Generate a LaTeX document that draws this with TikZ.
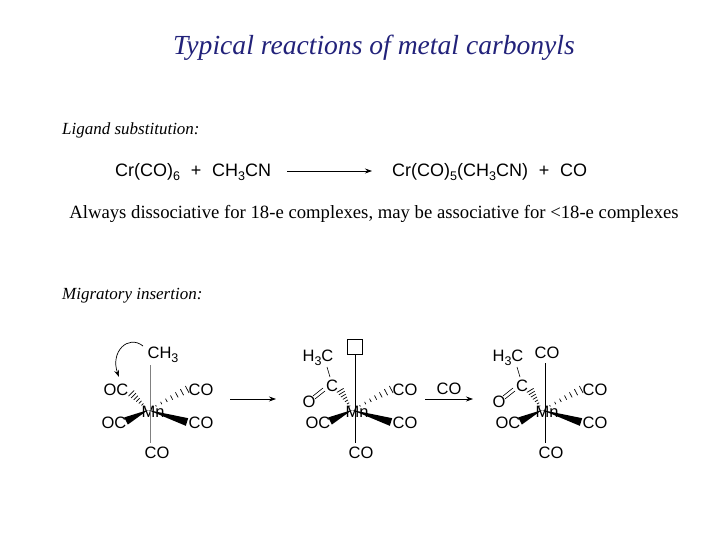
\documentclass[tikz,border=0pt]{standalone}
\usepackage{fontspec}
\setmainfont{Liberation Serif}
\setsansfont{Liberation Sans}
\usetikzlibrary{calc,arrows.meta}
\definecolor{titleblue}{HTML}{22227A}
\newcommand\sbs[1]{\raisebox{-0.4ex}{\fontsize{12.5}{13}\selectfont #1}}
\newcommand\hashwedge[2]{\foreach \t in {0.2,0.33,...,1.0}{\path ($(#1)!\t!(#2)$) coordinate (hw); \draw[line width=0.7pt] ($(hw)!{\t*4pt}!90:(#2)$) -- ($(hw)!{\t*4pt}!-90:(#2)$);}}
\newcommand\solidwedge[2]{\fill (#1) -- ($(#2)!4pt!90:(#1)$) -- ($(#2)!4pt!-90:(#1)$) -- cycle;}
\begin{document}
\begin{tikzpicture}[x=1pt,y=-1pt,
  mol/.style={font=\sffamily\fontsize{16.5}{17}\selectfont,inner sep=0pt},
  eq/.style={font=\sffamily\fontsize{18}{18}\selectfont,inner sep=0pt,anchor=west},
  ser/.style={font=\fontsize{17}{19}\selectfont\itshape,inner sep=0pt,anchor=west},
  bond/.style={line width=0.6pt},
  rarrow/.style={-{Stealth[length=7pt,width=5pt]},line width=0.7pt}]
\useasboundingbox (0,0) rectangle (720,540);
\node[font=\fontsize{27.6}{29}\selectfont\itshape,text=titleblue] (title) at (374,48) {Typical reactions of metal carbonyls};
\node[ser] (lig) at (62,130) {Ligand substitution:};
\node[eq] (r1) at (115,172) {Cr(CO)\sbs{6}\hspace{0.6em}+\hspace{0.6em}CH\sbs{3}CN};
\node[eq] (p1) at (392,172) {Cr(CO)\sbs{5}(CH\sbs{3}CN)\hspace{0.6em}+\hspace{0.6em}CO};
\draw[rarrow] (287,171) coordinate (a1s) -- (372,171) coordinate (a1e);
\node[font=\fontsize{18.7}{20}\selectfont,inner sep=0pt] (diss) at (374,214) {Always dissociative for 18-e complexes, may be associative for <18-e complexes};
\node[ser] (mig) at (62,296) {Migratory insertion:};
% molecule 1
\begin{scope}[name prefix=m1]
\node[mol] (Mn) at (153,412) {Mn};
\node[mol] (CH) at (163,355) {CH\sbs{3}};
\node[mol] (ocu) at (116,390) {OC};
\node[mol] (cou) at (201,390) {CO};
\node[mol] (ocl) at (114,423) {OC};
\node[mol] (col) at (201,423) {CO};
\node[mol] (cob) at (157,453) {CO};
\draw[bond,gray] (150,365) -- (150,443);
\coordinate (Mnc) at (148,410);
\coordinate (hl) at (131,393); \coordinate (hr) at (188,389);
\coordinate (sl) at (126,421); \coordinate (sr) at (187,422);
\hashwedge{Mnc}{hl}\hashwedge{Mnc}{hr}
\solidwedge{Mnc}{sl}\solidwedge{Mnc}{sr}
\draw[rarrow] (143,346) .. controls (128,334) and (110,352) .. (119,377);
\end{scope}
\draw[rarrow] (230,399) -- (276,399);
% molecule 2
\begin{scope}[name prefix=m2]
\node[mol] (Mn) at (357,412) {Mn};
\node[draw,line width=0.7pt,minimum size=15pt,inner sep=0pt] (sq) at (355,347) {};
\node[mol] (HC) at (318,358) {H\sbs{3}C};
\node[mol] (C) at (332,386) {C};
\node[mol] (O) at (309,402) {O};
\node[mol] (cou) at (405,390) {CO};
\node[mol] (ocl) at (318,423) {OC};
\node[mol] (col) at (405,423) {CO};
\node[mol] (cob) at (361,453) {CO};
\draw[bond] (sq.south) -- (355,443);
\draw[bond] (327,367) -- (330,377);
\draw[bond] (315,399) -- (325,391); \draw[bond] (313,396) -- (323,388);
\coordinate (Mnc) at (352,410);
\coordinate (hl) at (340,390); \coordinate (hr) at (392,389);
\coordinate (sl) at (330,421); \coordinate (sr) at (391,422);
\hashwedge{Mnc}{hl}\hashwedge{Mnc}{hr}
\solidwedge{Mnc}{sl}\solidwedge{Mnc}{sr}
\end{scope}
\draw[rarrow] (425,399) -- (473,399);
\node[mol] (colab) at (449,389) {CO};
% molecule 3
\begin{scope}[name prefix=m3]
\node[mol] (Mn) at (547,412) {Mn};
\node[mol] (cot) at (547,353) {CO};
\node[mol] (HC) at (508,358) {H\sbs{3}C};
\node[mol] (C) at (522,386) {C};
\node[mol] (O) at (499,402) {O};
\node[mol] (cou) at (595,390) {CO};
\node[mol] (ocl) at (508,423) {OC};
\node[mol] (col) at (595,423) {CO};
\node[mol] (cob) at (551,453) {CO};
\draw[bond] (545,363) -- (545,443);
\draw[bond] (517,367) -- (520,377);
\draw[bond] (505,399) -- (515,391); \draw[bond] (503,396) -- (513,388);
\coordinate (Mnc) at (542,410);
\coordinate (hl) at (530,390); \coordinate (hr) at (582,389);
\coordinate (sl) at (520,421); \coordinate (sr) at (581,422);
\hashwedge{Mnc}{hl}\hashwedge{Mnc}{hr}
\solidwedge{Mnc}{sl}\solidwedge{Mnc}{sr}
\end{scope}
\end{tikzpicture}
\end{document}
